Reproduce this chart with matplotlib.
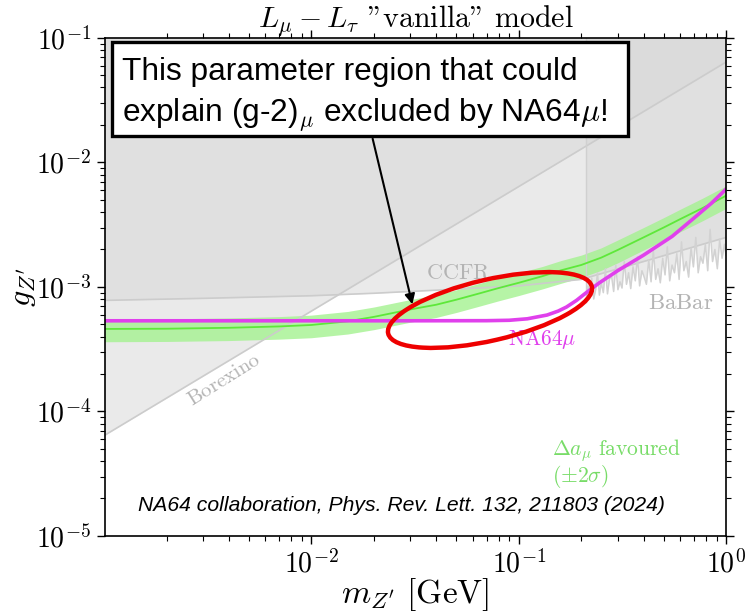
import numpy as np
import matplotlib
matplotlib.use("Agg")
import matplotlib.pyplot as plt
from matplotlib.patches import Ellipse, Rectangle
from matplotlib.transforms import IdentityTransform
from matplotlib.ticker import FuncFormatter

plt.rcParams['mathtext.fontset'] = 'cm'
plt.rcParams['font.family'] = 'DejaVu Serif'

# Borexino bound (straight line in log-log)
m_borexino = [1e-3, 1.0]
g_borexino = [6.4e-5, 6.4e-2]

# CCFR bound
m_ccfr = [1e-3, 3e-3, 1e-2, 2e-2, 5e-2, 0.1, 0.2, 0.4, 0.7, 1.0]
g_ccfr = [7.8e-4, 8.1e-4, 8.5e-4, 8.9e-4, 9.6e-4, 1.02e-3, 1.15e-3, 1.6e-3, 2.1e-3, 2.5e-3]

# BaBar bound (noisy), starts at 2 m_mu
m_babar = [0.212, 0.216, 0.221, 0.225, 0.23, 0.235, 0.24, 0.245, 0.25, 0.256,
           0.262, 0.268, 0.274, 0.28, 0.287, 0.294, 0.301, 0.308, 0.315, 0.323,
           0.331, 0.339, 0.347, 0.356, 0.365, 0.374, 0.383, 0.393, 0.403, 0.413,
           0.424, 0.435, 0.446, 0.458, 0.47, 0.482, 0.495, 0.508, 0.521, 0.535,
           0.549, 0.564, 0.579, 0.594, 0.61, 0.626, 0.643, 0.66, 0.678, 0.696,
           0.715, 0.734, 0.754, 0.774, 0.795, 0.816, 0.838, 0.861, 0.884, 0.908,
           0.932, 0.957, 0.983, 1.0]
g_babar = [0.76, 1.02, 0.84, 1.18, 0.80, 0.95, 1.30, 0.86, 1.08, 0.90,
           1.40, 0.88, 1.15, 1.25, 0.92, 1.50, 0.95, 1.10, 0.98, 1.60,
           1.05, 1.30, 0.97, 1.45, 1.12, 1.75, 1.02, 1.35, 1.20, 1.05,
           1.65, 1.10, 1.95, 1.15, 1.40, 1.08, 1.70, 1.25, 2.10, 1.12,
           1.50, 1.30, 1.85, 1.15, 2.30, 1.35, 1.60, 1.20, 2.05, 1.45,
           2.50, 1.30, 1.75, 1.55, 2.20, 1.35, 2.90, 1.60, 2.00, 1.40,
           2.40, 1.70, 2.20, 1.80]
g_babar = [v * 1e-3 for v in g_babar]

# (g-2)_mu favoured band (+-2 sigma)
m_gm2 = [1e-3, 2e-3, 4e-3, 7e-3, 0.01, 0.015, 0.02, 0.03, 0.04, 0.05, 0.065, 0.08,
         0.1, 0.13, 0.16, 0.2, 0.25, 0.3, 0.4, 0.5, 0.6, 0.77, 1.0]
g_gm2 = [4.6e-4, 4.62e-4, 4.7e-4, 4.82e-4, 4.95e-4, 5.3e-4, 5.75e-4, 6.6e-4, 7.2e-4, 7.9e-4,
         8.9e-4, 9.8e-4, 1.08e-3, 1.22e-3, 1.36e-3, 1.5e-3, 1.72e-3, 1.98e-3, 2.5e-3, 3.0e-3,
         3.5e-3, 4.3e-3, 5.4e-3]
g_gm2_lo = [3.63e-4, 3.65e-4, 3.71e-4, 3.81e-4, 3.91e-4, 4.19e-4, 4.54e-4, 5.21e-4, 5.69e-4,
            6.24e-4, 7.03e-4, 7.74e-4, 8.53e-4, 9.64e-4, 1.07e-3, 1.19e-3, 1.36e-3, 1.56e-3,
            1.98e-3, 2.37e-3, 2.77e-3, 3.4e-3, 4.27e-3]
g_gm2_hi = [5.52e-4, 5.54e-4, 5.64e-4, 5.78e-4, 5.94e-4, 6.36e-4, 6.9e-4, 7.92e-4, 8.64e-4,
            9.48e-4, 1.07e-3, 1.18e-3, 1.3e-3, 1.46e-3, 1.63e-3, 1.8e-3, 2.06e-3, 2.38e-3,
            3.0e-3, 3.6e-3, 4.2e-3, 5.16e-3, 6.48e-3]

# NA64mu limit
m_na64 = [1e-3, 0.03, 0.07, 0.09, 0.11, 0.137, 0.155, 0.17, 0.19, 0.21, 0.245, 0.3,
          0.4, 0.55, 0.69, 0.85, 1.0]
g_na64 = [5.35e-4, 5.35e-4, 5.36e-4, 5.4e-4, 5.55e-4, 5.95e-4, 6.4e-4, 6.9e-4, 7.8e-4,
          8.9e-4, 1.08e-3, 1.35e-3, 1.8e-3, 2.55e-3, 3.5e-3, 4.7e-3, 6.1e-3]

ytop = 0.1

fig = plt.figure(figsize=(7.48, 6.15), dpi=100)
ax = fig.add_axes([0.1404, 0.1285, 0.8302, 0.8098])
ax.set_xscale('log')
ax.set_yscale('log')

gray_fill = dict(color='#d6d6d6', alpha=0.49, lw=0)
ax.fill_between(m_borexino, g_borexino, ytop, **gray_fill)
ax.fill_between(m_ccfr, g_ccfr, ytop, **gray_fill)
ax.fill_between(m_babar, g_babar, ytop, **gray_fill)

ax.plot(m_borexino, g_borexino, color='#cccccc', lw=1.2)
ax.plot(m_ccfr, g_ccfr, color='#cccccc', lw=1.2)
ax.plot(m_babar, g_babar, color='#d2d2d2', lw=1.1)
ax.plot([m_babar[0], m_babar[0]], [g_babar[0], ytop], color='#d0d0d0', lw=1.0)

ax.fill_between(m_gm2, g_gm2_lo, g_gm2_hi, color='#a4f290', alpha=0.8, lw=0)
ax.plot(m_gm2, g_gm2, color='#5ee83a', lw=1.3)
ax.plot(m_na64, g_na64, color='#e040ec', lw=2.6)

ax.set_xlim(1.01e-3, 1)
ax.set_ylim(1e-5, 1e-1)

ax.text(3.8e-3, 1.79e-4, r'$\mathrm{Borexino}$', color='#b4b4b4', fontsize=15,
        rotation=32, ha='center', va='center')
ax.text(0.0513, 1.3e-3, r'$\mathrm{CCFR}$', color='#b4b4b4', fontsize=16,
        ha='center', va='center')
ax.text(0.607, 7.4e-4, r'$\mathrm{BaBar}$', color='#b4b4b4', fontsize=16.5,
        ha='center', va='center')
ax.text(0.13, 3.8e-4, r'$\mathrm{NA64}\mu$', color='#e040ec', fontsize=15.5,
        ha='center', va='center')
ax.text(0.144, 4.85e-5, r'$\Delta a_\mu\ \mathrm{favoured}$', color='#78dc68', fontsize=15.5,
        ha='left', va='center')
ax.text(0.144, 3.0e-5, r'$(\pm 2\sigma)$', color='#78dc68', fontsize=15.5,
        ha='left', va='center')
ax.text(0.478, 0.062, 'NA64 collaboration, Phys. Rev. Lett. 132, 211803 (2024)',
        transform=ax.transAxes, ha='center', va='center', fontsize=15.2,
        family='Liberation Sans', style='italic')

ax.set_title(r'$L_\mu - L_\tau$ "vanilla" model', fontsize=21.5, pad=3, family='cmr10')
ax.set_xlabel(r"$m_{Z'}\ [\mathrm{GeV}]$", fontsize=24, labelpad=-2)
ax.set_ylabel(r"$g_{Z'}$", fontsize=23)
ax.yaxis.set_label_coords(-0.108, 0.5)

fmt = FuncFormatter(lambda v, p: r'$10^{%d}$' % round(np.log10(v)))
ax.xaxis.set_major_formatter(fmt)
ax.yaxis.set_major_formatter(fmt)
ax.tick_params(which='both', direction='out', top=True, right=True, labelsize=20)
ax.tick_params(which='major', length=6, width=1, pad=4)
ax.tick_params(which='minor', length=3.5, width=0.8)
for sp in ax.spines.values():
    sp.set_linewidth(1.2)

# red ellipse highlighting the excluded region
ell = Ellipse((490, 305), 209, 61, angle=13, transform=IdentityTransform(),
              fill=False, edgecolor='#ee0000', lw=3.2, zorder=10)
fig.add_artist(ell)

# annotation box with arrow
box = Rectangle((112 / 748, 479 / 615), 516 / 748, 94 / 615, transform=fig.transFigure,
                facecolor='white', edgecolor='black', lw=2.4, zorder=11)
fig.add_artist(box)
fig.text(122 / 748, 535 / 615, 'This parameter region that could', fontsize=22.8,
         family='Liberation Sans', va='baseline', ha='left', zorder=12)
fig.text(122 / 748, 492 / 615, r'explain (g-2)$_\mu$ excluded by NA64$\mu$!', fontsize=22.8,
         family='Liberation Sans', va='baseline', ha='left', zorder=12)
ax.annotate('', xy=(413, 308), xycoords='figure pixels',
            xytext=(372, 479), textcoords='figure pixels',
            arrowprops=dict(arrowstyle='-|>', color='black', lw=1.5, mutation_scale=15),
            zorder=12)

fig.savefig('out.png', dpi=100)
